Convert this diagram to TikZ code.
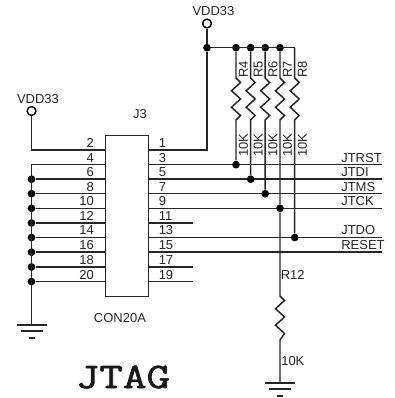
\documentclass[tikz,border=0pt]{standalone}
\usepackage{fontspec}
\setmainfont{Liberation Sans}
\newfontfamily\titlefont[FakeBold=1.6]{Latin Modern Mono}
\newcommand{\reszig}{-- ++(4.5,4.5) -- ++(-9,8.25) -- ++(9,8.25) -- ++(-9,8.25) -- ++(9,8.25)}
\tikzset{
 wire/.style={line width=1.1pt, black!85},
 dot/.style={circle, fill=black, inner sep=0pt, minimum size=5.8pt},
 rail/.style={circle, draw, line width=1.1pt, fill=white, inner sep=0pt, minimum size=6.6pt},
 lbl/.style={font=\fontsize{9.75}{10}\selectfont, text=black!85, inner sep=0pt},
 pinl/.style={lbl, anchor=east},
 pinr/.style={lbl, anchor=west},
 vlbl/.style={lbl, rotate=90, anchor=west},
}
\begin{document}
\begin{tikzpicture}[x=0.75pt, y=-0.75pt]
 \useasboundingbox (0,0) rectangle (394,398);
 \draw node[draw, line width=1.1pt, black!85, inner sep=0pt, minimum width=32.6pt, minimum height=120.6pt] (J3box) at (127,216) {};
 \draw node[lbl] (J3) at (140,114) {J3};
 \draw node[lbl] (CON) at (120,318) {CON20A};
 \draw node[font=\titlefont\fontsize{27}{27}\selectfont, xscale=1.27, text=black!90, inner sep=0pt] (JTAG) at (123,377) {JTAG};

 % left side rail and ground
 \draw node[rail] (VDDL) at (31.5,111) {};
 \draw node[lbl] (VDDLt) at (38,99) {VDD33};
 \coordinate (c2) at (31.5,150);
 \coordinate (c4) at (31.5,164.6);
 \coordinate (GNDL) at (31.5,325);
 \coordinate (p1) at (105,150);
 \coordinate (p2) at (105,164.6);
 \coordinate (p3) at (105,179.2);
 \coordinate (p4) at (105,193.7);
 \coordinate (p5) at (105,208.3);
 \coordinate (p6) at (105,223);
 \coordinate (p7) at (105,237.5);
 \coordinate (p8) at (105,252.2);
 \coordinate (p9) at (105,267);
 \coordinate (p10) at (105,281.6);
 \draw node[dot] (d6) at (31.5,179.2) {};
 \draw node[dot] (d8) at (31.5,193.7) {};
 \draw node[dot] (d10) at (31.5,208.3) {};
 \draw node[dot] (d12) at (31.5,223) {};
 \draw node[dot] (d14) at (31.5,237.5) {};
 \draw node[dot] (d16) at (31.5,252.2) {};
 \draw node[dot] (d18) at (31.5,267) {};
 \draw node[dot] (d20) at (31.5,281.6) {};
 \draw[wire] (VDDL) -- (c2) -- (p1);
 \draw[wire] (p2) -- (c4) -- (GNDL);
 \draw[wire] (d6) -- (p3);
 \draw[wire] (d8) -- (p4);
 \draw[wire] (d10) -- (p5);
 \draw[wire] (d12) -- (p6);
 \draw[wire] (d14) -- (p7);
 \draw[wire] (d16) -- (p8);
 \draw[wire] (d18) -- (p9);
 \draw[wire] (d20) -- (p10);
 \coordinate (GNDLa) at (17,325);
 \coordinate (GNDLb) at (47,325);
 \coordinate (GNDLc) at (21,331);
 \coordinate (GNDLd) at (43,331);
 \coordinate (GNDLe) at (28.5,338);
 \coordinate (GNDLf) at (34.5,338);
 \draw[wire] (GNDLa) -- (GNDLb);
 \draw[wire] (GNDLc) -- (GNDLd);
 \draw[wire] (GNDLe) -- (GNDLf);

 \draw node[pinl] (n2) at (94,143) {2};
 \draw node[pinl] (n4) at (94,157.6) {4};
 \draw node[pinl] (n6) at (94,172.2) {6};
 \draw node[pinl] (n8) at (94,186.7) {8};
 \draw node[pinl] (n10) at (94,201.3) {10};
 \draw node[pinl] (n12) at (94,216) {12};
 \draw node[pinl] (n14) at (94,230.5) {14};
 \draw node[pinl] (n16) at (94,245.2) {16};
 \draw node[pinl] (n18) at (94,260) {18};
 \draw node[pinl] (n20) at (94,274.6) {20};

 \draw node[pinr] (n1) at (158.5,143) {1};
 \draw node[pinr] (n3) at (158.5,157.6) {3};
 \draw node[pinr] (n5) at (158.5,172.2) {5};
 \draw node[pinr] (n7) at (158.5,186.7) {7};
 \draw node[pinr] (n9) at (158.5,201.3) {9};
 \draw node[pinr] (n11) at (158.5,216) {11};
 \draw node[pinr] (n13) at (158.5,230.5) {13};
 \draw node[pinr] (n15) at (158.5,245.2) {15};
 \draw node[pinr] (n17) at (158.5,260) {17};
 \draw node[pinr] (n19) at (158.5,274.6) {19};

 % right side pins and signals
 \coordinate (q1) at (148.5,150);
 \coordinate (q3) at (148.5,164.6);
 \coordinate (q5) at (148.5,179.2);
 \coordinate (q7) at (148.5,193.7);
 \coordinate (q9) at (148.5,208.3);
 \coordinate (q11) at (148.5,223);
 \coordinate (q13) at (148.5,237.5);
 \coordinate (q15) at (148.5,252.2);
 \coordinate (q17) at (148.5,267);
 \coordinate (q19) at (148.5,281.6);
 \coordinate (e3) at (382,164.6);
 \coordinate (e5) at (382,179.2);
 \coordinate (e7) at (382,193.7);
 \coordinate (e9) at (382,208.3);
 \coordinate (e11) at (193,223);
 \coordinate (e13) at (382,237.5);
 \coordinate (e15) at (382,252.2);
 \coordinate (e17) at (193,267);
 \coordinate (e19) at (193,281.6);
 \draw[wire] (q3) -- (e3);
 \draw[wire] (q5) -- (e5);
 \draw[wire] (q7) -- (e7);
 \draw[wire] (q9) -- (e9);
 \draw[wire] (q11) -- (e11);
 \draw[wire] (q13) -- (e13);
 \draw[wire] (q15) -- (e15);
 \draw[wire] (q17) -- (e17);
 \draw[wire] (q19) -- (e19);

 \draw node[pinr] (JTRST) at (341,157.6) {JTRST};
 \draw node[pinr] (JTDI) at (341,172.2) {JTDI};
 \draw node[pinr] (JTMS) at (341,186.7) {JTMS};
 \draw node[pinr] (JTCK) at (341,201.3) {JTCK};
 \draw node[pinr] (JTDO) at (341,230.5) {JTDO};
 \draw node[pinr] (RESET) at (341,245.2) {RESET};

 % top rail and pull ups
 \draw node[rail] (VDDT) at (207,23.5) {};
 \draw node[lbl] (VDDTt) at (213.5,11.5) {VDD33};
 \draw node[dot] (b0) at (207,47.7) {};
 \draw node[dot] (b4) at (236,47.7) {};
 \draw node[dot] (b5) at (250.7,47.7) {};
 \draw node[dot] (b6) at (265.2,47.7) {};
 \draw node[dot] (b7) at (280,47.7) {};
 \coordinate (b8) at (294.7,47.7);
 \coordinate (c1) at (207,150);
 \draw[wire] (VDDT) -- (b0) -- (c1) -- (q1);
 \draw[wire] (b0) -- (b8);

 \coordinate (R4a) at (236,78);
 \coordinate (R4b) at (236,120);
 \coordinate (R5a) at (250.7,78);
 \coordinate (R5b) at (250.7,120);
 \coordinate (R6a) at (265.2,78);
 \coordinate (R6b) at (265.2,120);
 \coordinate (R7a) at (280,78);
 \coordinate (R7b) at (280,120);
 \coordinate (R8a) at (294.7,78);
 \coordinate (R8b) at (294.7,120);
 \draw node[dot] (j4) at (236,164.6) {};
 \draw node[dot] (j5) at (250.7,179.2) {};
 \draw node[dot] (j6) at (265.2,193.7) {};
 \draw node[dot] (j7) at (280,208.3) {};
 \draw node[dot] (j8) at (294.7,237.5) {};
 \draw[wire] (b4) -- (R4a) \reszig -- (R4b) -- (j4);
 \draw[wire] (b5) -- (R5a) \reszig -- (R5b) -- (j5);
 \draw[wire] (b6) -- (R6a) \reszig -- (R6b) -- (j6);
 \draw[wire] (b7) -- (R7a) \reszig -- (R7b) -- (j7);
 \draw[wire] (b8) -- (R8a) \reszig -- (R8b) -- (j8);

 \draw node[vlbl] (R4) at (243.5,78) {R4};
 \draw node[vlbl] (R5) at (258.2,78) {R5};
 \draw node[vlbl] (R6) at (273,78) {R6};
 \draw node[vlbl] (R7) at (287.5,78) {R7};
 \draw node[vlbl] (R8) at (302.5,78) {R8};
 \draw node[vlbl] (v4) at (243.5,157) {10K};
 \draw node[vlbl] (v5) at (258.2,157) {10K};
 \draw node[vlbl] (v6) at (273,157) {10K};
 \draw node[vlbl] (v7) at (287.5,157) {10K};
 \draw node[vlbl] (v8) at (302.5,157) {10K};

 % R12 down to ground
 \coordinate (R12a) at (280,296);
 \coordinate (R12b) at (280,340);
 \coordinate (GNDR) at (280,383);
 \draw[wire] (j7) -- (R12a) \reszig -- (R12b) -- (GNDR);
 \draw node[pinr] (R12) at (280.5,275) {R12};
 \draw node[pinr] (v12) at (281,361.5) {10K};
 \coordinate (GNDRa) at (265,383);
 \coordinate (GNDRb) at (295,383);
 \coordinate (GNDRc) at (269,389);
 \coordinate (GNDRd) at (291,389);
 \coordinate (GNDRe) at (277,396);
 \coordinate (GNDRf) at (283,396);
 \draw[wire] (GNDRa) -- (GNDRb);
 \draw[wire] (GNDRc) -- (GNDRd);
 \draw[wire] (GNDRe) -- (GNDRf);
\end{tikzpicture}
\end{document}
